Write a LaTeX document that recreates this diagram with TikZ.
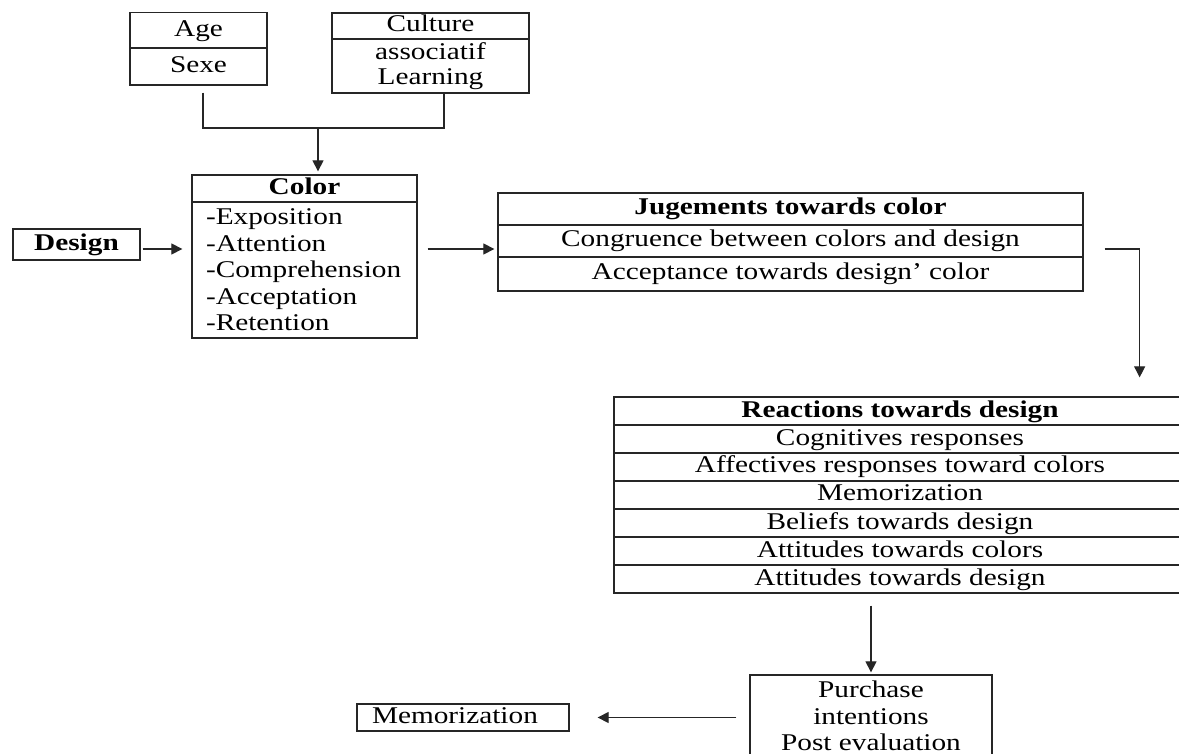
\documentclass[tikz,border=0pt]{standalone}
\usepackage{fontspec}
\setmainfont{Liberation Serif}[FakeStretch=1.22]
\usetikzlibrary{arrows.meta}

\begin{document}
\begin{tikzpicture}
  [x=0.5pt,y=-0.5pt,
   every node/.style={draw=black!85,line width=0.65pt,rectangle,inner sep=0pt,
     align=center,font=\fontsize{12pt}{13.25pt}\selectfont},
   cell/.style={text height=8.5pt,text depth=2.5pt},
   arr/.style={draw=black!85,line width=0.6pt,-{Triangle[length=5.5pt,width=5.5pt]}}]
  \useasboundingbox[fill=white] (0,0) rectangle (1179,754);

  % top boxes
  \node[cell,minimum width=68.5pt,minimum height=18pt]   (age)  at (198.5,30.5) {Age};
  \node[cell,minimum width=68.5pt,minimum height=18.5pt] (sexe) at (198.5,66.5) {Sexe};
  \node[cell,minimum width=98.5pt,minimum height=13pt]   (culture) at (430.5,26) {Culture};
  \node[minimum width=98.5pt,minimum height=27pt,font=\fontsize{12pt}{12.5pt}\selectfont]
    (learn) at (430.5,66) {associatif\\Learning};

  % color
  \node[cell,minimum width=112.5pt,minimum height=13.5pt] (colhead) at (304.5,188.5) {\textbf{Color}};
  \node[minimum width=112.5pt,minimum height=68pt,align=left,text width=98.5pt,inner xsep=7pt]
    (colbody) at (304.5,270) {-Exposition\\-Attention\\-Comprehension\\-Acceptation\\-Retention};
  \node[cell,minimum width=63.5pt,minimum height=15.5pt] (design) at (76.5,244.5) {\textbf{Design}};

  % jugements
  \node[cell,minimum width=292.5pt,minimum height=16pt] (jug1) at (790.5,209) {\textbf{Jugements towards color}};
  \node[cell,minimum width=292.5pt,minimum height=16pt] (jug2) at (790.5,241) {Congruence between colors and design};
  \node[cell,minimum width=292.5pt,minimum height=17pt] (jug3) at (790.5,274) {Acceptance towards design’ color};

  % reactions
  \foreach \txt [count=\i from 0] in {\textbf{Reactions towards design},Cognitives responses,
      Affectives responses toward colors,Memorization,Beliefs towards design,
      Attitudes towards colors,Attitudes towards design}
    \node[cell,minimum width=286pt,minimum height=14pt] (r\i) at (900,411+28*\i) {\txt};

  \node[minimum width=121pt,minimum height=41pt] (pur) at (871,716) {Purchase\\intentions\\Post evaluation};
  \node[cell,minimum width=106pt,minimum height=13.5pt,align=left,text width=91pt,inner xsep=7.5pt]
    (memo) at (463,717.5) {Memorization};

  \coordinate (mix) at (318,128);
  \coordinate (din) at ([yshift=-2.25pt]design.east);
  \coordinate (jin) at ([yshift=-4pt]jug2.west);
  \coordinate (jout) at ([yshift=-4pt]jug2.east);
  \coordinate (drop) at ([xshift=28pt]jout);

  \draw[draw=black!85,line width=0.6pt] ([xshift=2.25pt,yshift=-3.5pt]sexe.south) |- (mix) -| ([xshift=6.75pt]learn.south);
  \draw[arr,shorten >=1.5pt] (mix) -- (mix |- colhead.north);
  \draw[arr,shorten <=1pt,shorten >=4.5pt] (din) -- (din -| colbody.west);
  \draw[arr,shorten <=5pt,shorten >=1.5pt] (colbody.east |- jin) -- (jin);
  \draw[arr,shorten <=10.5pt,shorten >=9.5pt] (jout) -- (drop) -- (drop |- r0.north);
  \draw[arr,shorten <=6pt,shorten >=1pt] (pur.north |- r6.south) -- (pur.north);
  \draw[arr,shorten <=6.5pt,shorten >=14pt] (pur.west |- memo.east) -- (memo.east);

\end{tikzpicture}
\end{document}
